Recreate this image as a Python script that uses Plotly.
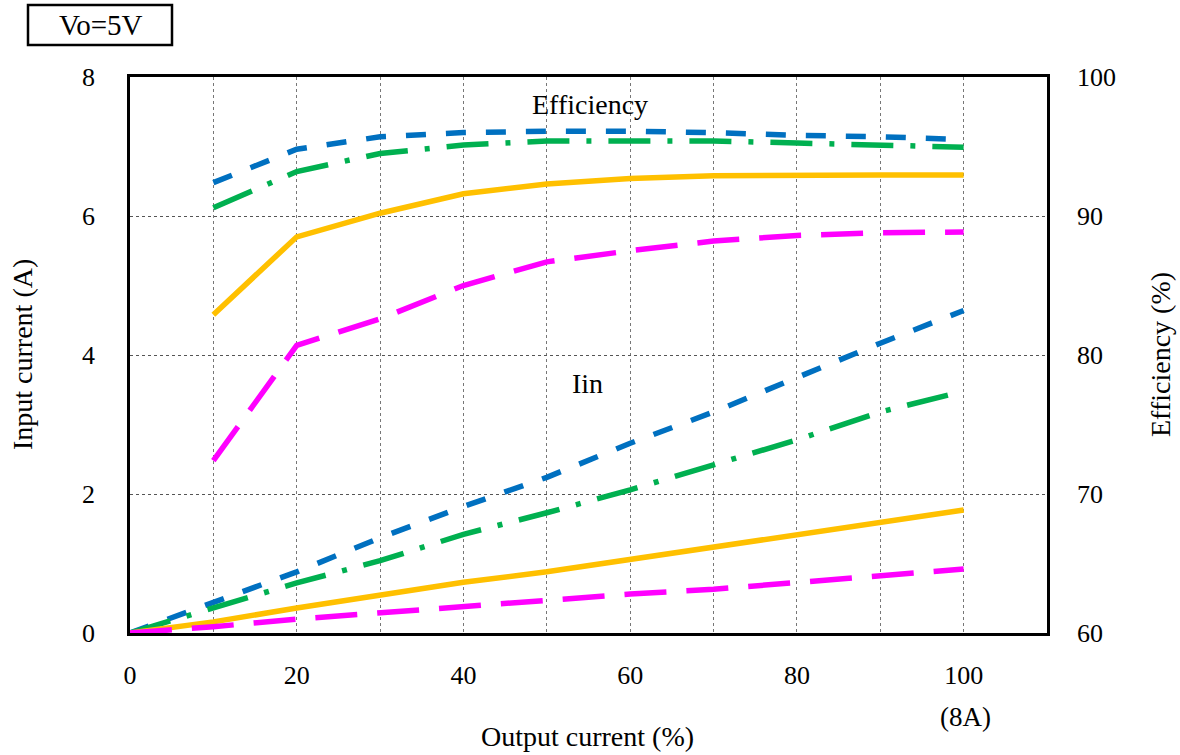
import plotly.graph_objects as go

# Output current steps (% of rated 8 A)
load_pct = [0, 10, 20, 30, 40, 50, 60, 70, 80, 90, 100]
eff_pct = [10, 20, 30, 40, 50, 60, 70, 80, 90, 100]

# Efficiency (%) curves
eff_blue = [92.4, 94.8, 95.7, 96.0, 96.1, 96.1, 96.0, 95.8, 95.7, 95.5]
eff_green = [90.6, 93.2, 94.5, 95.1, 95.4, 95.4, 95.4, 95.25, 95.1, 94.95]
eff_yellow = [82.9, 88.5, 90.2, 91.6, 92.3, 92.7, 92.9, 92.95, 92.95, 92.95]
eff_magenta = [72.4, 80.7, 82.6, 85.0, 86.7, 87.5, 88.2, 88.6, 88.8, 88.85]

# Input current (A) curves
iin_blue = [0, 0.45, 0.88, 1.37, 1.82, 2.24, 2.73, 3.18, 3.68, 4.17, 4.64]
iin_green = [0, 0.35, 0.72, 1.04, 1.42, 1.73, 2.06, 2.42, 2.78, 3.18, 3.48]
iin_yellow = [0, 0.16, 0.36, 0.55, 0.73, 0.88, 1.06, 1.24, 1.41, 1.60, 1.77]
iin_magenta = [0, 0.09, 0.20, 0.29, 0.37, 0.47, 0.56, 0.63, 0.73, 0.82, 0.92]

x_tick_vals = [0, 10, 20, 30, 40, 50, 60, 70, 80, 90, 100]
x_tick_text = ["0", "", "20", "", "40", "", "60", "", "80", "", "100"]

BLUE = "#0070C0"
GREEN = "#00B050"
YELLOW = "#FFC000"
MAGENTA = "#FF00FF"

styles = [
    (BLUE, "20px,20px", eff_blue, iin_blue),
    (GREEN, "42px,17px,5px,17px", eff_green, iin_green),
    (YELLOW, "solid", eff_yellow, iin_yellow),
    (MAGENTA, "42px,20px", eff_magenta, iin_magenta),
]

FONT = "Liberation Serif, Times New Roman, serif"
W, H = 1180, 755
L, R, T, B = 130, 133, 77, 122
PW, PH = W - L - R, H - T - B


def px(x):
    return (x - L) / PW


def py(y):
    return (H - B - y) / PH


fig = go.Figure()

for color, dash, eff, iin in styles:
    fig.add_trace(go.Scatter(
        x=eff_pct, y=eff, yaxis="y2", mode="lines",
        line=dict(color=color, width=5.5, dash=dash), showlegend=False,
    ))
for color, dash, eff, iin in styles:
    fig.add_trace(go.Scatter(
        x=load_pct, y=iin, mode="lines",
        line=dict(color=color, width=5.5, dash=dash), showlegend=False,
    ))

fig.update_layout(
    width=W, height=H,
    margin=dict(l=L, r=R, t=T, b=B),
    paper_bgcolor="white", plot_bgcolor="white",
    font=dict(family=FONT, size=26, color="black"),
    xaxis=dict(
        range=[0, 110], tickvals=x_tick_vals, ticktext=x_tick_text,
        showgrid=True, gridcolor="#777", griddash="dot", gridwidth=1,
        showline=True, linecolor="black", linewidth=2.5, mirror=True,
        ticks="", ticklabelstandoff=17, zeroline=False,
    ),
    yaxis=dict(
        range=[0, 8], dtick=2,
        showgrid=True, gridcolor="#555", griddash="dot", gridwidth=1,
        showline=True, linecolor="black", linewidth=2.5,
        ticks="", ticklabelstandoff=27, zeroline=False,
    ),
    yaxis2=dict(
        range=[60, 100], dtick=10, overlaying="y", side="right",
        showgrid=False, showline=True, linecolor="black", linewidth=2.5,
        ticks="", ticklabelstandoff=22, zeroline=False,
    ),
)

# "Vo=5V" boxed label
fig.add_shape(
    type="rect", xref="paper", yref="paper",
    x0=px(28), x1=px(172), y0=py(45), y1=py(5),
    line=dict(color="black", width=2.5), fillcolor="white",
)

annotations = [
    dict(text="Vo=5V", x=px(101), y=py(25), size=29),
    dict(text="Efficiency", x=px(590), y=py(104), size=28),
    dict(text="Iin", x=px(587), y=py(383), size=28),
    dict(text="(8A)", x=px(965), y=py(717), size=27),
    dict(text="Output current (%)", x=px(587), y=py(736), size=28),
    dict(text="Input current (A)", x=px(22), y=py(355), size=28, angle=-90),
    dict(text="Efficiency (%)", x=px(1160), y=py(355), size=28, angle=-90),
]
for a in annotations:
    fig.add_annotation(
        text=a["text"], x=a["x"], y=a["y"], xref="paper", yref="paper",
        showarrow=False, xanchor="center", yanchor="middle",
        textangle=a.get("angle", 0),
        font=dict(family=FONT, size=a["size"], color="black"),
    )

fig.write_html("out.html")
